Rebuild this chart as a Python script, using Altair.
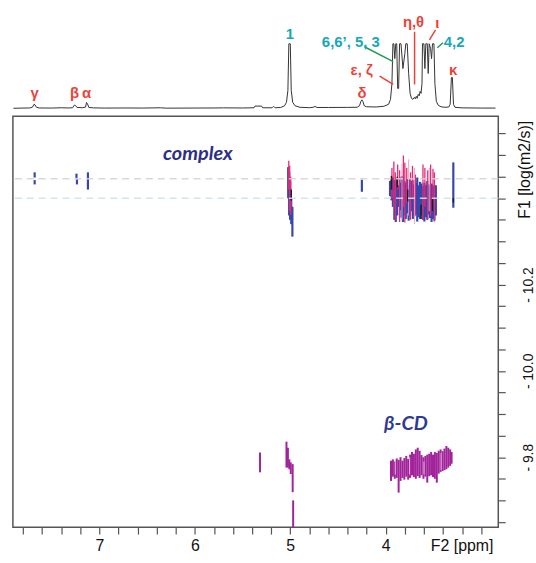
import altair as alt
import pandas as pd

# ---------------- 1D projection (top trace) ----------------
spec_ppm = [7.90, 7.80, 7.73, 7.70, 7.685, 7.675, 7.66, 7.63, 7.50, 7.40, 7.32, 7.28, 7.262, 7.25,
            7.235, 7.18, 7.145, 7.135, 7.125, 7.11, 7.06, 6.95, 6.70, 6.55, 6.36, 6.30, 5.80, 5.70,
            5.50, 5.38, 5.37, 5.30, 5.29, 5.19, 5.175, 5.16, 5.10, 5.06, 5.04, 5.025, 5.015, 5.000,
            4.99, 4.975, 4.95, 4.90, 4.80, 4.76, 4.74, 4.72, 4.60, 4.40, 4.30, 4.275, 4.26, 4.25,
            4.24, 4.225, 4.20, 4.10, 4.02, 3.97, 3.95, 3.935, 3.925, 3.915, 3.905, 3.895, 3.885,
            3.875, 3.865, 3.855, 3.84, 3.82, 3.80, 3.79, 3.775, 3.76, 3.745, 3.73, 3.715, 3.70,
            3.69, 3.68, 3.67, 3.66, 3.65, 3.64, 3.63, 3.62, 3.615, 3.60, 3.59, 3.58, 3.565, 3.555,
            3.545, 3.53, 3.52, 3.51, 3.495, 3.485, 3.47, 3.45, 3.42, 3.38, 3.34, 3.325, 3.312,
            3.302, 3.29, 3.275, 3.20, 3.00, 2.85]
spec_int = [0.0, 0.2, 0.3, 1.2, 4.0, 3.5, 1.0, 0.3, 0.2, 0.5, 0.3, 0.6, 3.2, 2.8,
            0.9, 0.5, 1.2, 5.8, 4.5, 0.8, 0.4, 0.2, 0.3, 0.2, 0.5, 0.1, 0.3, 0.4,
            0.3, 0.5, 2.2, 2.2, 0.5, 0.5, 2.0, 0.5, 0.8, 2.5, 6, 18, 65, 65,
            18, 6, 2.5, 1.0, 0.6, 1.0, 1.8, 0.8, 0.8, 0.9, 1.0, 2.5, 7, 8.5,
            7, 2.5, 1.5, 1.3, 2.0, 4.0, 9, 25, 65, 65, 50, 65, 65,
            20, 20, 65, 65, 40, 55, 65, 65, 35, 15, 10, 9, 11,
            9.5, 12, 10, 14, 12.5, 17, 15, 25, 65, 65, 40, 65, 65, 35,
            65, 60, 50, 65, 65, 25, 7, 3, 1.5, 1.0, 1.2, 4, 31,
            31, 4, 1.0, 0.4, 0.2, 0.2]

peak_labels = ["γ", "β", "α", "1", "6,6’, 5, 3", "η,θ", "ι", "4,2", "ε, ζ", "δ", "κ"]
peak_label_ppm = [7.678, 7.259, 7.135, 5.005, 4.366, 3.709, 3.46, 3.283, 4.252, 4.249, 3.294]
peak_label_int = [15, 15, 15, 75, 67, 87, 86, 67, 39, 15, 39]
peak_label_kind = ["host", "host", "host", "cd", "cd", "host", "host", "cd", "host", "host", "host"]

leader_ppm_a = [4.224, 4.064, 3.698, 3.478, 3.40]
leader_int_a = [62, 32.5, 77, 79, 66]
leader_ppm_b = [3.922, 3.922, 3.698, 3.542, 3.46]
leader_int_b = [47, 24, 24, 69, 61]
leader_kind = ["cd", "host", "host", "host", "cd"]

# ---------------- 2D DOSY contours (vertical strokes) ----------------
# complex, blue
blue_ppm = [7.678, 7.678, 7.24, 7.235, 7.12, 5.022, 5.012, 5.002, 4.99, 4.978, 4.25,
            3.955, 3.94, 3.925, 3.91, 3.895, 3.88, 3.865, 3.85, 3.835, 3.82, 3.805, 3.79,
            3.775, 3.76, 3.745, 3.73, 3.715, 3.70, 3.685, 3.67, 3.655, 3.64, 3.625, 3.61,
            3.595, 3.58, 3.565, 3.55, 3.535, 3.52, 3.505, 3.49, 3.475, 3.292]
blue_top = [-10.460, -10.442, -10.457, -10.444, -10.460, -10.472, -10.460, -10.440, -10.400, -10.380, -10.443,
            -10.440, -10.445, -10.448, -10.442, -10.438, -10.446, -10.430, -10.436, -10.450, -10.452, -10.440, -10.436,
            -10.444, -10.430, -10.446, -10.440, -10.432, -10.442, -10.436, -10.448, -10.430, -10.438, -10.434, -10.428,
            -10.436, -10.430, -10.440, -10.432, -10.426, -10.434, -10.430, -10.424, -10.430, -10.483]
blue_bottom = [-10.448, -10.432, -10.447, -10.432, -10.420, -10.400, -10.360, -10.350, -10.340, -10.311, -10.415,
               -10.405, -10.395, -10.380, -10.350, -10.345, -10.360, -10.380, -10.372, -10.355, -10.345, -10.360, -10.352,
               -10.365, -10.348, -10.360, -10.370, -10.352, -10.358, -10.362, -10.346, -10.356, -10.352, -10.360, -10.350,
               -10.346, -10.356, -10.350, -10.362, -10.354, -10.345, -10.352, -10.348, -10.360, -10.378]

# complex, pink
pink_ppm = [5.016, 5.006, 4.995, 3.935, 3.915, 3.90, 3.875, 3.855, 3.815, 3.80, 3.78, 3.74, 3.72,
            3.69, 3.61, 3.59, 3.56, 3.53, 3.505, 3.49]
pink_top = [-10.487, -10.475, -10.450, -10.470, -10.485, -10.460, -10.478, -10.465, -10.499, -10.482, -10.470,
            -10.460, -10.475, -10.455, -10.478, -10.470, -10.465, -10.478, -10.468, -10.460]
pink_bottom = [-10.420, -10.370, -10.361, -10.400, -10.380, -10.350, -10.420, -10.345, -10.380, -10.344, -10.390,
               -10.350, -10.400, -10.360, -10.350, -10.380, -10.352, -10.360, -10.385, -10.346]

lpink_ppm = [3.83, 3.76, 3.70, 3.545]
lpink_top = [-10.480, -10.490, -10.470, -10.470]
lpink_bottom = [-10.350, -10.360, -10.340, -10.370]

black_ppm = [4.99, 3.94, 3.88, 3.77, 3.63, 3.51, 3.292]
black_top = [-10.420, -10.452, -10.450, -10.420, -10.385, -10.400, -10.400]
black_bottom = [-10.395, -10.420, -10.425, -10.392, -10.352, -10.370, -10.390]

# free beta-CD, magenta
cd_ppm = [5.317, 5.04, 5.025, 5.01, 4.995, 4.975, 4.97,
          3.945, 3.925, 3.905, 3.885, 3.865, 3.845, 3.825, 3.805, 3.785, 3.765, 3.745,
          3.725, 3.705, 3.685, 3.665, 3.645, 3.625, 3.605, 3.585, 3.565, 3.545, 3.525,
          3.505, 3.485, 3.465, 3.445, 3.425, 3.405, 3.385, 3.365, 3.345, 3.325, 3.31]
cd_top = [-9.811, -9.836, -9.822, -9.795, -9.788, -9.784, -9.700,
          -9.792, -9.795, -9.790, -9.797, -9.794, -9.800, -9.792, -9.798, -9.803, -9.796, -9.806,
          -9.812, -9.808, -9.818, -9.822, -9.815, -9.805, -9.800, -9.803, -9.806, -9.808, -9.812,
          -9.806, -9.812, -9.810, -9.815, -9.818, -9.814, -9.820, -9.826, -9.822, -9.818, -9.812]
cd_bottom = [-9.765, -9.776, -9.776, -9.772, -9.761, -9.719, -9.637,
             -9.745, -9.755, -9.750, -9.752, -9.718, -9.745, -9.752, -9.748, -9.755, -9.748, -9.752,
             -9.758, -9.754, -9.750, -9.756, -9.752, -9.758, -9.750, -9.755, -9.741, -9.756, -9.758,
             -9.754, -9.750, -9.741, -9.762, -9.766, -9.768, -9.770, -9.772, -9.776, -9.780, -9.785]

lcd_ppm = [3.90, 3.75, 3.60, 3.42]
lcd_top = [-9.790, -9.800, -9.790, -9.810]
lcd_bottom = [-9.760, -9.760, -9.760, -9.770]

dash_levels = [-10.445, -10.400]

x_tick_values = [7.8, 7.6, 7.4, 7.2, 7.0, 6.8, 6.6, 6.4, 6.2, 6.0, 5.8, 5.6, 5.4, 5.2, 5.0,
                 4.8, 4.6, 4.4, 4.2, 4.0, 3.8, 3.6, 3.4, 3.2, 3.0]
y_tick_values = [-10.55, -10.5, -10.45, -10.4, -10.35, -10.3, -10.25, -10.2, -10.15, -10.1,
                 -10.05, -10.0, -9.95, -9.9, -9.85, -9.8, -9.75, -9.7, -9.65]

# ---------------- layout constants ----------------
W = 489
H_TOP = 112
H_MAIN = 414
X_DOMAIN = [7.906, 2.821]
Y_DOMAIN = [-10.590, -9.638]
RED = "#ef3f3a"
TEAL = "#17a8b8"
GREEN = "#1f9e55"
FONT = "Liberation Sans"

xs = alt.Scale(domain=X_DOMAIN, nice=False, zero=False)

# ---------------- top chart ----------------
spec_df = pd.DataFrame({"ppm": spec_ppm, "inten": spec_int})
lab_df = pd.DataFrame({"ppm": peak_label_ppm, "inten": peak_label_int,
                       "text": peak_labels, "kind": peak_label_kind})
lead_df = pd.DataFrame({"ppm": leader_ppm_a, "inten": leader_int_a,
                        "ppm2": leader_ppm_b, "inten2": leader_int_b, "kind": leader_kind})

ys_top = alt.Scale(domain=[-6, 106], nice=False, zero=False)

spec_line = alt.Chart(spec_df).mark_line(color="#333333", strokeWidth=1).encode(
    x=alt.X("ppm:Q", scale=xs, axis=None),
    y=alt.Y("inten:Q", scale=ys_top, axis=None),
    order=alt.Order("ppm:Q", sort="descending"),
)
labels = alt.Chart(lab_df).mark_text(font=FONT, fontSize=15, fontWeight="bold").encode(
    x=alt.X("ppm:Q", scale=xs, axis=None),
    y=alt.Y("inten:Q", scale=ys_top, axis=None),
    text="text:N",
    color=alt.Color("kind:N", scale=alt.Scale(domain=["host", "cd"], range=[RED, TEAL]), legend=None),
)
leaders = alt.Chart(lead_df).mark_rule(strokeWidth=1.5).encode(
    x=alt.X("ppm:Q", scale=xs, axis=None),
    x2="ppm2:Q",
    y=alt.Y("inten:Q", scale=ys_top, axis=None),
    y2="inten2:Q",
    color=alt.Color("kind:N", scale=alt.Scale(domain=["host", "cd"], range=[RED, GREEN]), legend=None),
)
top = alt.layer(spec_line, leaders, labels).resolve_scale(color="independent").properties(
    width=W, height=H_TOP, view=alt.ViewBackground(stroke="transparent"))

# ---------------- main 2D chart ----------------
ys = alt.Scale(domain=Y_DOMAIN, reverse=True, nice=False, zero=False)

x_axis = alt.Axis(values=x_tick_values, tickCount=40,
                  labelExpr="(abs(datum.value - round(datum.value)) < 0.01 && datum.value > 3.5) ? format(datum.value, 'd') : ''",
                  tickSize=7, tickColor="#555555", tickWidth=1.2, domain=False, grid=False, title=None,
                  labelOverlap=False, labelFlush=False,
                  labelFont=FONT, labelFontSize=16, labelColor="#111111", labelPadding=4)
y_axis = alt.Axis(orient="right", values=y_tick_values, tickCount=40,
                  labelExpr="abs(datum.value + 10.2) < 0.001 ? '- 10.2' : (abs(datum.value + 10.0) < 0.001 ? '- 10.0' : (abs(datum.value + 9.8) < 0.001 ? '- 9.8' : ''))",
                  tickSize=7, tickColor="#555555", tickWidth=1.2, domain=False, grid=False, title=None,
                  labelOverlap=False, labelFlush=False,
                  labelAngle=270, labelAlign="center", labelBaseline="top", labelPadding=16,
                  labelFont=FONT, labelFontSize=14, labelColor="#111111")


def strokes(ppm, top_v, bottom_v, color, width):
    df = pd.DataFrame({"ppm": ppm, "top": top_v, "bottom": bottom_v})
    return alt.Chart(df).mark_rule(color=color, strokeWidth=width).encode(
        x=alt.X("ppm:Q", scale=xs, axis=x_axis),
        y=alt.Y("top:Q", scale=ys, axis=y_axis),
        y2="bottom:Q",
    )


layers = [
    strokes(blue_ppm, blue_top, blue_bottom, "#3747ab", 2.2),
    strokes(pink_ppm, pink_top, pink_bottom, "#e52a78", 1.3),
    strokes(lpink_ppm, lpink_top, lpink_bottom, "#f39cc2", 1.0),
    strokes(black_ppm, black_top, black_bottom, "#1e1e1e", 1.5),
    strokes(cd_ppm, cd_top, cd_bottom, "#a1249a", 2.0),
    strokes(lcd_ppm, lcd_top, lcd_bottom, "#e6b0de", 1.0),
]

dash_df = pd.DataFrame({"level": dash_levels, "c": ["a", "b"]})
dashes = alt.Chart(dash_df).mark_rule(strokeDash=[7, 5], strokeWidth=1.5, opacity=0.9).encode(
    y=alt.Y("level:Q", scale=ys, axis=y_axis),
    color=alt.Color("c:N", scale=alt.Scale(domain=["a", "b"], range=["#d4d4d4", "#cfe0ea"]), legend=None),
)

complex_txt = alt.Chart().mark_text(font="Lato", fontSize=20, fontStyle="italic", fontWeight="bold",
                                    color="#2c2f85").encode(
    x=alt.datum(5.968), y=alt.datum(-10.503), text=alt.value("complex"))
cd_txt = alt.Chart().mark_text(font="Lato", fontSize=20, fontStyle="italic", fontWeight="bold",
                               color="#2f3a92").encode(
    x=alt.datum(3.789), y=alt.datum(-9.877), text=alt.value("β-CD"))
f2_txt = alt.Chart().mark_text(font=FONT, fontSize=16, color="#111111", baseline="top").encode(
    x=alt.datum(3.2), y=alt.value(H_MAIN + 11), text=alt.value("F2 [ppm]"))
f1_txt = alt.Chart().mark_text(font=FONT, fontSize=16, color="#111111", angle=270,
                               align="center", baseline="middle").encode(
    x=alt.value(W + 27), y=alt.value(54), text=alt.value("F1 [log(m2/s)]"))

main = alt.layer(*layers, dashes, complex_txt, cd_txt, f2_txt, f1_txt).properties(
    width=W, height=H_MAIN, view=alt.ViewBackground(stroke="#555555", strokeWidth=1.5))

chart = alt.vconcat(top, main, spacing=0).properties(
    padding={"left": 11, "top": 0, "right": 0, "bottom": 0}, background="white"
).configure_view(stroke="transparent")

chart.save("out.html", embed_options={"renderer": "svg", "actions": False})
